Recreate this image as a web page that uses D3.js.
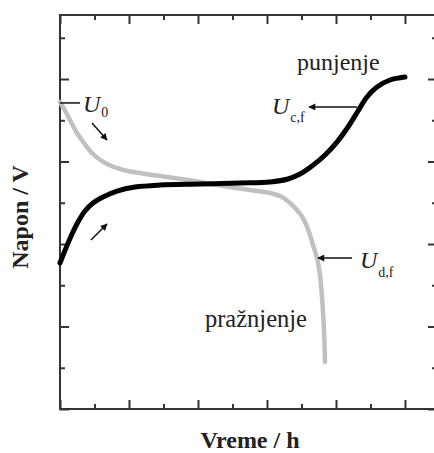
<!DOCTYPE html>
<html lang="sr">
<head>
  <meta charset="UTF-8">
  <title>punjenje / praznjenje</title>
  <script src="https://d3js.org/d3.v7.min.js"></script>
  <style>
    body { margin: 0; background: #fff; }
    text { font-family: "Liberation Serif", "Times New Roman", serif; fill: #222; }
  </style>
</head>
<body>
  <div id="chart"></div>

  <script>
    // vreme (h) i napon (V) -- punjenje
    var chargeT = [0, 0.087, 0.174, 0.261, 0.362, 0.478, 0.623, 0.826, 1.087, 1.449, 2.029, 2.609,
                   3.043, 3.304, 3.478, 3.652, 3.841, 4.014, 4.174, 4.319, 4.449, 4.594, 4.783, 5.0];
    var chargeU = [1.77, 1.952, 2.121, 2.267, 2.4, 2.497, 2.57, 2.642, 2.691, 2.715, 2.727, 2.739,
                   2.752, 2.788, 2.848, 2.945, 3.079, 3.236, 3.418, 3.612, 3.782, 3.903, 3.988, 4.024];

    // praznjenje
    var dischargeT = [0, 0.043, 0.145, 0.246, 0.348, 0.449, 0.565, 0.681, 0.87, 1.058, 1.551, 2.029,
                      2.275, 2.754, 3.043, 3.217, 3.333, 3.42, 3.493, 3.551, 3.609, 3.667, 3.725,
                      3.768, 3.797, 3.826, 3.841];
    var dischargeU = [3.721, 3.661, 3.503, 3.345, 3.224, 3.115, 3.03, 2.97, 2.909, 2.873, 2.812, 2.752,
                      2.715, 2.655, 2.618, 2.57, 2.497, 2.424, 2.352, 2.267, 2.145, 1.988, 1.83,
                      1.624, 1.358, 0.958, 0.57];

    var xMajor = [0, 1, 2, 3, 4, 5];
    var xMinor = [0.5, 1.5, 2.5, 3.5, 4.5];
    var yMajor = [0, 1, 2, 3, 4];
    var yMinor = [0.5, 1.5, 2.5, 3.5, 4.5];

    var W = 434, H = 453;
    var mLeft = 60, mTop = 15, mRight = 437, mBottom = 409;

    var svg = d3.select("#chart").append("svg")
      .attr("width", W)
      .attr("height", H);

    var x = d3.scaleLinear().domain([0, 5.464]).range([mLeft, mRight]);
    var y = d3.scaleLinear().domain([0, 4.776]).range([mBottom, mTop]);

    // ticks facing inward on all four sides
    function ticks(axis, vals, size, transform) {
      svg.append("g")
        .attr("transform", transform)
        .call(axis.tickValues(vals).tickSize(-size).tickFormat(""))
        .call(function (g) {
          g.select(".domain").remove();
          g.selectAll("line").attr("stroke", "#333").attr("stroke-width", 2);
        });
    }
    ticks(d3.axisBottom(x), xMajor, 9, "translate(0," + mBottom + ")");
    ticks(d3.axisBottom(x), xMinor, 5, "translate(0," + mBottom + ")");
    ticks(d3.axisTop(x), xMajor, 9, "translate(0," + mTop + ")");
    ticks(d3.axisTop(x), xMinor, 5, "translate(0," + mTop + ")");
    ticks(d3.axisLeft(y), yMajor, 9, "translate(" + mLeft + ",0)");
    ticks(d3.axisLeft(y), yMinor, 5, "translate(" + mLeft + ",0)");
    ticks(d3.axisRight(y), yMajor, 9, "translate(" + mRight + ",0)");
    ticks(d3.axisRight(y), yMinor, 5, "translate(" + mRight + ",0)");

    svg.append("rect")
      .attr("x", mLeft).attr("y", mTop)
      .attr("width", mRight - mLeft).attr("height", mBottom - mTop)
      .attr("fill", "none")
      .attr("stroke", "#333")
      .attr("stroke-width", 2);

    var line = d3.line()
      .x(function (d) { return x(d[0]); })
      .y(function (d) { return y(d[1]); })
      .curve(d3.curveCatmullRom.alpha(0.5));

    svg.append("path")
      .datum(d3.zip(dischargeT, dischargeU))
      .attr("d", line)
      .attr("fill", "none")
      .attr("stroke", "#c0c0c0")
      .attr("stroke-width", 4.5)
      .attr("stroke-linecap", "round");

    svg.append("path")
      .datum(d3.zip(chargeT, chargeU))
      .attr("d", line)
      .attr("fill", "none")
      .attr("stroke", "#000")
      .attr("stroke-width", 5)
      .attr("stroke-linecap", "round");

    // arrow head
    svg.append("defs").append("marker")
      .attr("id", "head")
      .attr("viewBox", "0 0 10 10")
      .attr("refX", 9).attr("refY", 5)
      .attr("markerWidth", 9).attr("markerHeight", 7)
      .attr("markerUnits", "userSpaceOnUse")
      .attr("orient", "auto")
      .append("path")
      .attr("d", "M0,0L10,5L0,10Z")
      .attr("fill", "#111");

    function arrow(t1, u1, t2, u2, head) {
      var l = svg.append("line")
        .attr("x1", x(t1)).attr("y1", y(u1))
        .attr("x2", x(t2)).attr("y2", y(u2))
        .attr("stroke", "#111")
        .attr("stroke-width", 1.5);
      if (head) l.attr("marker-end", "url(#head)");
    }

    arrow(0, 3.71, 0.29, 3.71, false);          // U0 leader
    arrow(0.464, 3.467, 0.681, 3.261, true);    // discharge direction
    arrow(0.449, 2.048, 0.681, 2.242, true);    // charge direction
    arrow(4.304, 3.661, 3.609, 3.661, true);    // Uc,f
    arrow(4.232, 1.83, 3.739, 1.83, true);      // Ud,f

    function uLabel(t, u, sub, dy) {
      var tx = svg.append("text")
        .attr("x", x(t)).attr("y", y(u))
        .attr("font-size", 24)
        .attr("font-style", "italic")
        .text("U");
      tx.append("tspan")
        .attr("dy", dy)
        .attr("dx", 1)
        .attr("font-size", 14)
        .attr("font-style", "normal")
        .text(sub);
    }
    uLabel(0.333, 3.6, "0", 5);
    uLabel(3.072, 3.576, "c,f", 8);
    uLabel(4.348, 1.709, "d,f", 9);

    svg.append("text")
      .attr("x", x(3.435)).attr("y", y(4.109))
      .attr("font-size", 24)
      .text("punjenje");

    svg.append("text")
      .attr("x", x(2.101)).attr("y", y(0.994))
      .attr("font-size", 24.5)
      .text("pražnjenje");

    svg.append("text")
      .attr("x", 250).attr("y", 448)
      .attr("text-anchor", "middle")
      .attr("font-size", 24)
      .attr("font-weight", "bold")
      .text("Vreme / h");

    svg.append("text")
      .attr("transform", "translate(28,217) rotate(-90)")
      .attr("text-anchor", "middle")
      .attr("font-size", 24)
      .attr("font-weight", "bold")
      .text("Napon / V");
  </script>
</body>
</html>
